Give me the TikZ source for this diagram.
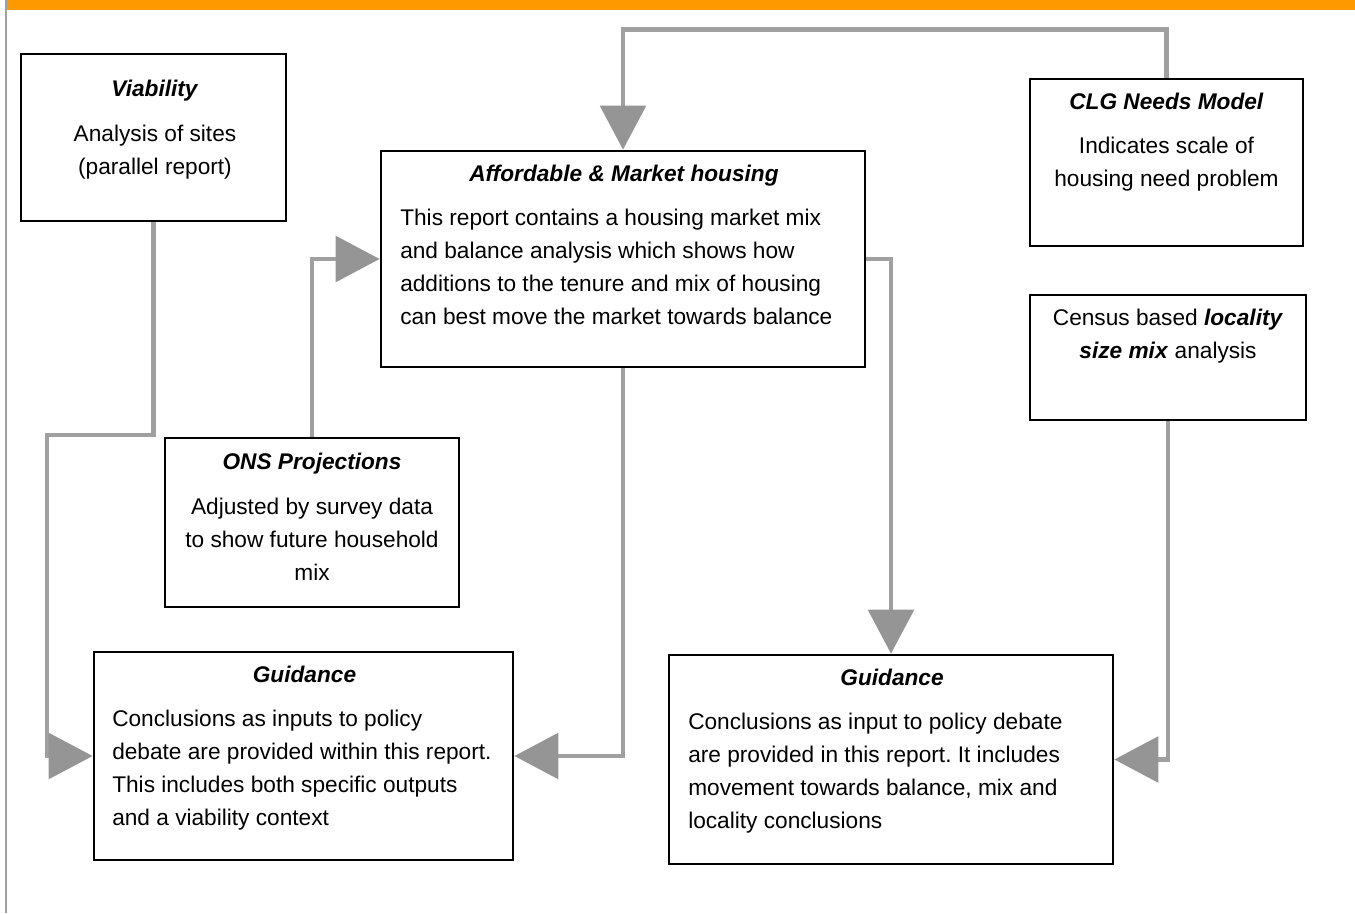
\documentclass[tikz,border=0pt]{standalone}
\usepackage{fontspec}
\setmainfont{Liberation Sans}
\usetikzlibrary{arrows.meta}
\definecolor{conngray}{HTML}{A0A0A0}
\definecolor{headgray}{HTML}{959595}
\definecolor{barorange}{HTML}{FF9900}
\frenchspacing
\begin{document}
\begin{tikzpicture}[x=0.75pt,y=-0.75pt,
  box/.style={draw=black, line width=2pt, rectangle, inner sep=0pt},
  txt/.style={inner sep=0pt, font=\fontsize{17}{24.75}\selectfont, align=center, anchor=north},
  bodytxt/.style={inner sep=0pt, font=\fontsize{17}{24.75}\selectfont, align=left, anchor=north west},
  conn/.style={draw=conngray, line width=3.6pt,
    -{Triangle[length=33pt, width=34pt, color=headgray, fill=headgray]}}]
\useasboundingbox (0,0) rectangle (1355,913);
% frame decorations
\fill[barorange] (7,0) rectangle (1355,10);
\draw[conngray, line width=1.5pt] (6,0) -- (6,913);

% boxes
\node[box, minimum width=265*0.75pt, minimum height=167*0.75pt] (via) at (153.5,137.5) {};
\node[box, minimum width=484*0.75pt, minimum height=216*0.75pt] (aff) at (623,259) {};
\node[box, minimum width=273*0.75pt, minimum height=167*0.75pt] (clg) at (1166.5,162.5) {};
\node[box, minimum width=276*0.75pt, minimum height=125*0.75pt] (cen) at (1168,357.5) {};
\node[box, minimum width=294*0.75pt, minimum height=169*0.75pt] (ons) at (312,522.5) {};
\node[box, minimum width=419*0.75pt, minimum height=208*0.75pt] (gl) at (303.5,756) {};
\node[box, minimum width=444*0.75pt, minimum height=209*0.75pt] (gr) at (891,759.5) {};

% texts
\node[txt] (viat) at (155,80) {\textbf{\textit{Viability}}\\[9pt]Analysis of sites\\(parallel report)};
\node[txt] (clgt) at (1166.5,93) {\textbf{\textit{CLG Needs Model}}\\[8pt]Indicates scale of\\housing need problem};
\node[txt] (cent) at (1168,309) {Census based \textbf{\textit{locality}}\\\textbf{\textit{size mix}} analysis};
\node[txt] (onst) at (312,453) {\textbf{\textit{ONS Projections}}\\[9pt]Adjusted by survey data\\to show future household\\mix};
\node[txt] (afft) at (624,165) {\textbf{\textit{Affordable \& Market housing}}};
\node[bodytxt] (affb) at (400,209) {This report contains a housing market mix\\and balance analysis which shows how\\additions to the tenure and mix of housing\\can best move the market towards balance};
\node[txt] (glt) at (304.5,666) {\textbf{\textit{Guidance}}};
\node[bodytxt] (glb) at (112,710) {Conclusions as inputs to policy\\debate are provided within this report.\\This includes both specific outputs\\and a viability context};
\node[txt] (grt) at (892,669) {\textbf{\textit{Guidance}}};
\node[bodytxt] (grb) at (688,713) {Conclusions as input to policy debate\\are provided in this report. It includes\\movement towards balance, mix and\\locality conclusions};

% connectors
\coordinate (vbend) at (47,435);
\draw[conn] (clg.north) -- ++(0,-48) -| (aff.north);
\draw[conn] (via.south) |- (vbend) |- (gl.west);
\draw[conn] (ons.north) |- (aff.west);
\draw[conn] (aff.south) |- (gl.east);
\draw[conn] (aff.east) -| (gr.north);
\draw[conn] (cen.south) |- (gr.east);
\end{tikzpicture}
\end{document}
